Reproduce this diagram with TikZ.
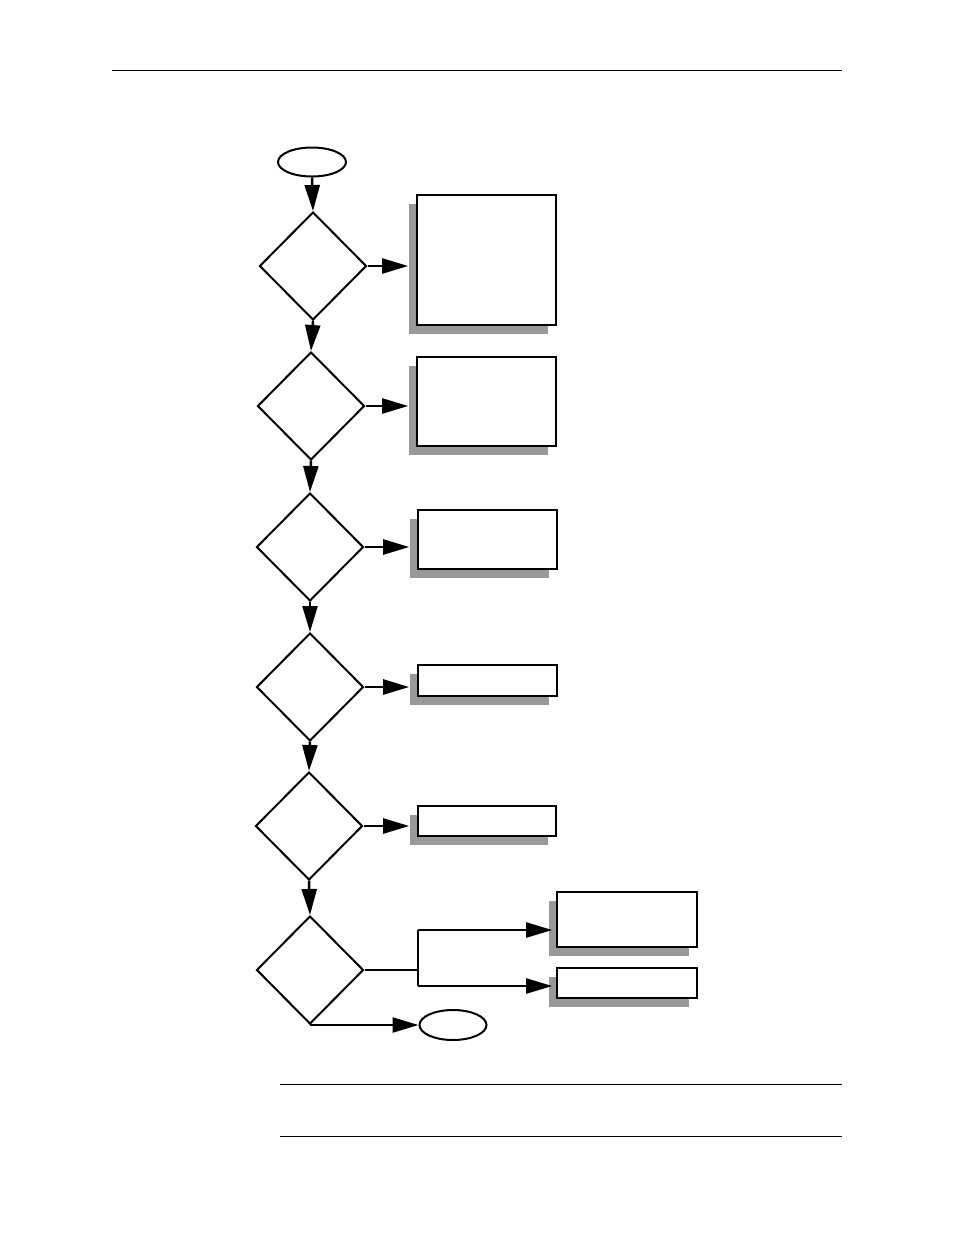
\documentclass[tikz,border=0pt]{standalone}
\usetikzlibrary{shapes.geometric,arrows.meta,shadows}
\definecolor{shadowgray}{HTML}{999999}
\begin{document}
\begin{tikzpicture}[x=1pt,y=-1pt,
  dec/.style={draw,shape=diamond,line width=2pt,minimum width=107pt,minimum height=108pt,inner sep=0pt},
  term/.style={draw,ellipse,line width=2pt,minimum width=68pt,minimum height=29pt,inner sep=0pt},
  actbox/.style={draw,fill=white,line width=1.6pt,rectangle,inner sep=0pt,
    drop shadow={shadow xshift=-8pt,shadow yshift=-9pt,fill=shadowgray,opacity=1}},
  arr/.style={line width=2.5pt,-{Triangle[length=26pt,width=15pt]}},
  ln/.style={line width=2.5pt},
  rulestyle/.style={line width=1pt}]
\useasboundingbox (0,0) rectangle (954,1235);
% rules
\coordinate (r1a) at (112,70); \coordinate (r1b) at (842,70);
\coordinate (r2a) at (280,1084); \coordinate (r2b) at (842,1084);
\coordinate (r3a) at (280,1136); \coordinate (r3b) at (842,1136);
\draw[rulestyle] (r1a) -- (r1b);
\draw[rulestyle] (r2a) -- (r2b);
\draw[rulestyle] (r3a) -- (r3b);
% terminals
\node[term] (start) at (312,162) {};
\node[term,minimum width=67pt,minimum height=30pt] (stop) at (453,1025) {};
% decisions
\node[dec] (d1) at (313,266) {};
\node[dec] (d2) at (311,406) {};
\node[dec] (d3) at (310,547) {};
\node[dec] (d4) at (310,687) {};
\node[dec] (d5) at (309,826) {};
\node[dec] (d6) at (310,970) {};
% boxes
\node[actbox,minimum width=139pt,minimum height=130pt] (b1) at (486.5,260) {};
\node[actbox,minimum width=139pt,minimum height=89pt] (b2) at (486.5,401.5) {};
\node[actbox,minimum width=139pt,minimum height=59pt] (b3) at (487.5,539.5) {};
\node[actbox,minimum width=139pt,minimum height=31pt] (b4) at (487.5,680.5) {};
\node[actbox,minimum width=138pt,minimum height=30pt] (b5) at (487,821) {};
\node[actbox,minimum width=140pt,minimum height=55pt] (b6) at (627,919.5) {};
\node[actbox,minimum width=140pt,minimum height=30pt] (b7) at (627,983) {};
% vertical flow
\draw[arr] (start.south) -- (d1.north);
\draw[arr] (d1.south) -- (d2.north);
\draw[arr] (d2.south) -- (d3.north);
\draw[arr] (d3.south) -- (d4.north);
\draw[arr] (d4.south) -- (d5.north);
\draw[arr] (d5.south) -- (d6.north);
% side arrows
\draw[arr] (d1.east) -- ([xshift=-8pt]d1.east -| b1.west);
\draw[arr] (d2.east) -- ([xshift=-8pt]d2.east -| b2.west);
\draw[arr] (d3.east) -- ([xshift=-8pt]d3.east -| b3.west);
\draw[arr] (d4.east) -- ([xshift=-8pt]d4.east -| b4.west);
\draw[arr] (d5.east) -- ([xshift=-8pt]d5.east -| b5.west);
% branch
\coordinate (br) at (418,970);
\coordinate (brt) at (418,930);
\coordinate (brb) at (418,986);
\draw[ln] (d6.east) -- (br);
\draw[ln] (brt) -- (brb);
\draw[arr] (brt) -- ([xshift=-4pt]brt -| b6.west);
\draw[arr] (brb) -- ([xshift=-4pt]brb -| b7.west);
% exit
\draw[arr] (d6.south) -- (d6.south -| stop.west);
\end{tikzpicture}
\end{document}
